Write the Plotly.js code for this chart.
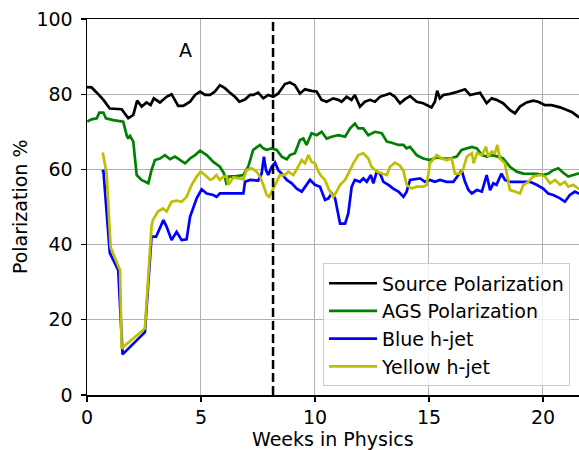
<!DOCTYPE html>
<html>
<head>
<meta charset="utf-8">
<script src="https://cdn.plot.ly/plotly-3.0.1.min.js"></script>
<style>html,body{margin:0;padding:0;background:#fff;}#chart{width:579px;height:450px;}</style>
</head>
<body>
<div id="chart"></div>
<script>
// ---- data (weeks in physics, polarization %) ----
const seriesNames = ["Source Polarization", "AGS Polarization", "Blue h-jet", "Yellow h-jet"];

const sourceWeeks = [0,0.2,0.43,0.72,1.0,1.52,1.81,2.03,2.2,2.4,2.61,2.79,2.93,3.2,3.49,3.71,4.0,4.22,4.52,4.74,4.96,5.18,5.4,5.61,5.83,6.05,6.27,6.49,6.68,6.93,7.15,7.29,7.51,7.73,7.95,8.17,8.39,8.68,8.9,9.12,9.34,9.56,9.85,10.07,10.29,10.51,10.8,11.02,11.17,11.39,11.6,11.75,11.97,12.19,12.41,12.63,12.85,13.07,13.29,13.51,13.73,13.95,14.17,14.46,14.75,15.11,15.26,15.36,15.48,15.63,15.92,16.29,16.58,16.8,17.02,17.24,17.53,17.75,17.96,18.25,18.55,18.77,18.99,19.28,19.57,19.79,20.09,20.38,20.75,21.04,21.26,21.55,21.75];
const sourcePol = [81.9,81.8,80.4,78.5,76.2,76.0,73.6,74.5,78.3,76.7,77.8,77.1,78.9,77.8,79.3,80.0,76.9,76.9,78.0,79.8,80.7,79.8,79.8,80.7,82.4,81.6,80.4,79.3,78.0,78.6,79.8,79.8,80.4,78.9,79.8,79.3,80.2,82.7,83.1,82.4,80.2,81.3,80.9,80.7,78.5,78.0,78.9,78.5,78.0,79.3,78.5,79.8,76.7,78.0,78.5,78.0,79.3,79.8,80.2,79.3,77.6,78.7,79.5,78.0,77.6,76.5,78.0,80.9,78.9,79.8,80.1,80.7,81.3,79.8,80.2,80.4,77.6,78.9,78.5,77.6,75.8,74.9,76.7,77.8,78.3,78.0,77.1,77.1,76.5,75.8,75.3,74.0,73.4];

const agsWeeks = [0.01,0.2,0.43,0.54,0.72,0.83,1.15,1.59,1.74,1.81,1.89,2.03,2.18,2.39,2.69,2.83,2.98,3.2,3.42,3.64,3.86,4.08,4.3,4.52,4.74,4.96,5.25,5.54,5.83,6.01,6.13,6.2,6.56,6.86,7.0,7.07,7.29,7.59,7.73,7.88,8.1,8.32,8.54,8.76,8.9,9.12,9.34,9.49,9.63,9.85,10.07,10.29,10.51,10.73,11.02,11.32,11.54,11.75,11.9,12.12,12.34,12.63,12.93,13.15,13.37,13.66,13.88,14.02,14.17,14.46,14.75,15.04,15.34,15.63,15.92,16.22,16.43,16.66,16.88,17.1,17.32,17.53,17.75,18.04,18.25,18.55,18.85,19.14,19.43,19.72,20.01,20.23,20.45,20.67,20.89,21.11,21.33,21.55,21.75];
const agsPol = [72.7,73.3,73.6,75.1,75.1,73.6,73.1,72.7,69.1,68.2,68.9,67.4,58.5,57.2,56.3,59.8,62.5,62.9,63.8,62.7,63.4,62.5,61.6,62.9,63.8,65.0,63.8,62.0,60.7,58.9,55.9,58.1,58.2,58.5,59.8,60.7,65.2,66.5,65.6,65.2,65.6,65.2,63.4,62.7,63.8,64.3,67.8,68.2,66.5,69.6,69.1,70.0,68.2,68.7,69.1,68.7,70.9,72.2,70.9,70.9,69.1,70.0,69.6,67.4,67.1,66.5,66.5,65.6,66.0,63.8,62.9,62.5,63.2,62.9,62.9,63.4,65.2,65.6,66.0,65.6,63.8,63.4,63.8,63.4,62.9,60.7,59.4,58.9,58.9,58.8,58.5,58.9,59.8,60.3,59.1,58.1,58.5,58.9,59.0];

const blueWeeks = [0.65,0.72,1.0,1.37,1.56,2.54,2.83,3.03,3.35,3.49,3.71,3.93,4.15,4.37,4.52,4.81,5.03,5.25,5.54,5.68,5.83,6.13,6.49,6.86,6.93,7.15,7.51,7.66,7.76,7.85,7.95,8.1,8.25,8.39,8.54,8.76,8.98,9.2,9.42,9.63,9.78,10.0,10.22,10.44,10.59,10.73,10.88,11.1,11.32,11.46,11.61,11.75,11.97,12.12,12.27,12.45,12.56,12.71,12.85,13.0,13.22,13.43,13.66,13.88,14.02,14.17,14.39,14.61,14.82,15.04,15.26,15.48,15.77,16.07,16.29,16.43,16.58,16.73,16.88,17.1,17.32,17.53,17.68,17.82,17.96,18.18,18.33,18.55,18.85,19.14,19.43,19.72,20.01,20.23,20.45,20.75,20.96,21.18,21.4,21.55,21.75];
const bluePol = [59.4,59.6,37.8,33.2,10.8,16.7,42.1,42.1,46.5,44.8,41.2,43.4,41.2,41.4,47.4,52.3,54.7,53.6,53.2,52.7,53.6,53.6,53.8,53.6,56.7,57.2,57.0,58.9,63.4,59.8,58.5,60.7,61.8,59.8,58.9,57.2,56.3,54.9,54.1,55.9,57.2,55.9,55.4,51.9,52.3,53.6,52.3,45.6,45.6,48.3,55.4,57.2,56.7,57.6,56.7,58.5,56.3,59.4,58.9,56.7,55.9,54.9,54.1,52.7,54.1,57.2,57.3,57.6,56.7,57.2,56.7,57.2,56.7,56.7,58.5,59.8,56.7,54.5,53.6,54.5,54.1,58.5,54.5,56.3,55.9,58.9,57.2,56.7,56.7,56.7,56.7,55.9,54.9,53.6,53.2,52.3,51.4,53.2,54.1,53.6,53.8];

const yellowWeeks = [0.69,0.86,1.04,1.45,1.52,2.54,2.83,2.89,3.11,3.33,3.49,3.71,3.93,4.15,4.37,4.59,4.81,4.98,5.18,5.4,5.54,5.68,5.83,5.98,6.13,6.2,6.42,6.86,7.0,7.22,7.44,7.59,7.73,7.88,7.99,8.17,8.32,8.46,8.68,8.83,9.05,9.27,9.42,9.56,9.71,9.85,10.0,10.15,10.29,10.44,10.59,10.8,10.95,11.1,11.32,11.46,11.68,11.9,12.12,12.34,12.48,12.71,12.93,13.15,13.29,13.51,13.73,13.88,14.02,14.24,14.46,14.75,14.9,15.04,15.34,15.56,15.77,15.99,16.14,16.37,16.51,16.66,16.88,16.96,17.1,17.32,17.5,17.6,17.75,17.89,18.0,18.11,18.33,18.55,18.77,18.99,19.14,19.36,19.57,19.87,20.09,20.31,20.53,20.75,20.96,21.11,21.33,21.55,21.75];
const yellowPol = [64.5,58.9,39.2,33.2,12.4,17.7,44.8,46.5,48.8,49.6,48.8,51.4,51.7,51.4,52.7,55.9,58.1,59.4,58.5,57.2,57.6,58.5,57.2,58.1,58.1,55.9,57.9,57.4,59.8,60.3,59.4,58.1,55.9,53.2,52.7,54.9,56.7,58.5,58.5,59.4,58.5,60.7,62.5,61.6,63.8,62.0,61.6,59.4,58.1,57.2,54.9,52.7,54.1,55.9,57.2,58.9,61.6,63.8,64.3,62.9,60.7,59.4,58.9,58.5,60.7,61.8,61.0,59.6,55.9,54.9,55.4,55.4,55.9,61.6,63.8,62.9,62.5,62.9,58.9,58.9,60.3,63.4,64.3,61.6,64.3,63.8,66.0,63.4,64.7,64.3,66.5,62.9,61.6,54.5,54.1,53.6,55.9,56.7,58.1,58.5,58.1,56.3,57.2,55.9,56.7,55.4,55.9,54.9,54.6];

const markerWeek = 8.16;           // vertical dashed marker
const panelLabel = "A";
const panelLabelPos = [4.3, 91.8];
const xTitle = "Weeks in Physics";
const yTitle = "Polarization %";
const xTicks = [0, 5, 10, 15, 20];
const yTicks = [0, 20, 40, 60, 80, 100];

const colors = ["#000000", "#008000", "#0000ff", "#bfbf00"];
const xs = [sourceWeeks, agsWeeks, blueWeeks, yellowWeeks];
const ys = [sourcePol, agsPol, bluePol, yellowPol];

const FONT = "DejaVu Sans, sans-serif";

const traces = seriesNames.map((n, i) => ({
  type: "scatter", mode: "lines", name: n,
  x: xs[i], y: ys[i],
  line: {color: colors[i], width: 2.7}
}));

const layout = {
  width: 579, height: 450,
  margin: {l: 87, r: 0, t: 19, b: 55, pad: 0},
  paper_bgcolor: "#fff", plot_bgcolor: "#fff",
  font: {family: FONT, size: 19, color: "#000"},
  showlegend: true,
  legend: {
    x: 0.4797, y: 0.35, xanchor: "left", yanchor: "top",
    itemwidth: 48,
    bgcolor: "rgba(255,255,255,0.8)", bordercolor: "#cccccc", borderwidth: 1,
    font: {family: FONT, size: 19, color: "#000"}
  },
  xaxis: {
    range: [0, 21.58], tickvals: xTicks, ticktext: xTicks.map(String),
    showgrid: true, gridcolor: "#b0b0b0", gridwidth: 1,
    zeroline: false, showline: true, linecolor: "#000", linewidth: 1.5, mirror: true,
    ticks: "outside", ticklen: 5, tickwidth: 1.3, tickcolor: "#000",
    tickfont: {family: FONT, size: 19}
  },
  yaxis: {
    range: [0, 100], tickvals: yTicks, ticktext: yTicks.map(String),
    showgrid: true, gridcolor: "#b0b0b0", gridwidth: 1,
    zeroline: false, showline: true, linecolor: "#000", linewidth: 1.5,
    ticks: "outside", ticklen: 5, tickwidth: 1.3, tickcolor: "#000",
    ticklabelstandoff: 4,
    tickfont: {family: FONT, size: 19}
  },
  shapes: [{
    type: "line", xref: "x", yref: "paper", x0: markerWeek, x1: markerWeek, y0: 0, y1: 1,
    line: {color: "#000", width: 2.5, dash: "9px,4px"}
  }],
  annotations: [
    {
      x: panelLabelPos[0], y: panelLabelPos[1], xref: "x", yref: "y",
      text: panelLabel, showarrow: false, font: {family: FONT, size: 19, color: "#000"}
    },
    {
      x: 0.5, y: -0.116, xref: "paper", yref: "paper", xanchor: "center", yanchor: "middle",
      text: xTitle, showarrow: false, font: {family: FONT, size: 19, color: "#000"}
    },
    {
      x: -0.136, y: 0.5, xref: "paper", yref: "paper", xanchor: "center", yanchor: "middle",
      textangle: -90, text: yTitle, showarrow: false, font: {family: FONT, size: 19, color: "#000"}
    }
  ]
};

Plotly.newPlot("chart", traces, layout, {displayModeBar: false, staticPlot: true});
</script>
</body>
</html>
